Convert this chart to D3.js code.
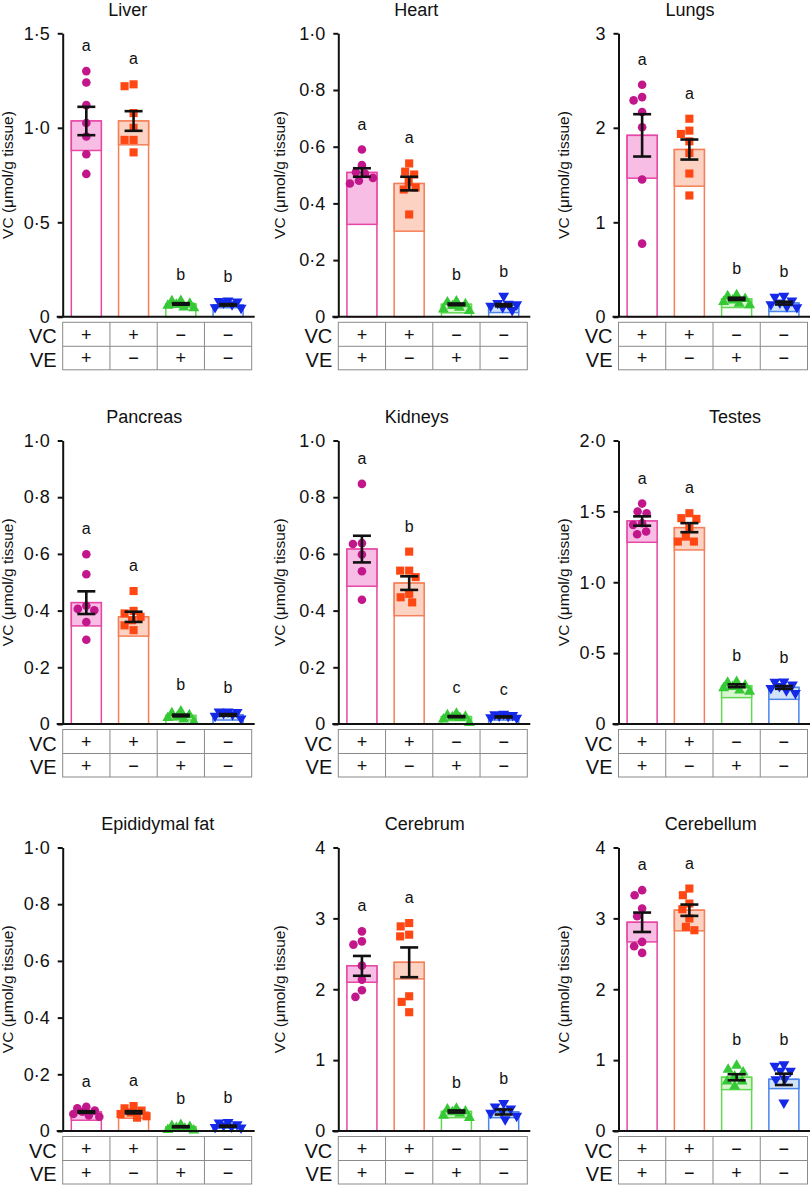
<!DOCTYPE html>
<html><head><meta charset="utf-8">
<script src="https://cdn.jsdelivr.net/npm/d3@7"></script>
<style>body{margin:0;background:#fff} svg{display:block} text{font-family:"Liberation Sans", Arial, Helvetica, sans-serif; fill:#111;}</style>
</head><body><svg id="c" width="810" height="1185"></svg>
<script>
// ---------------- data ----------------
const tissues = ["Liver","Heart","Lungs","Pancreas","Kidneys","Testes","Epididymal fat","Cerebrum","Cerebellum"];
const yMax = [1.5, 1, 3, 1, 1, 2, 1, 4, 4];
const tickStep = [0.5, 0.2, 1, 0.2, 0.2, 0.5, 0.2, 1, 1];
const groups = ["VC+VE+","VC+VE−","VC−VE+","VC−VE−"];
const vcSigns = ["+","+","−","−"];
const veSigns = ["+","−","+","−"];
const axisTitle = "VC (μmol/g tissue)";

const means = [
  [1.036, 1.036, 0.068, 0.063],
  [0.509, 0.470, 0.044, 0.041],
  [1.92, 1.77, 0.19, 0.145],
  [0.428, 0.378, 0.030, 0.032],
  [0.617, 0.497, 0.026, 0.025],
  [1.432, 1.385, 0.270, 0.258],
  [0.067, 0.066, 0.015, 0.017],
  [2.33, 2.38, 0.275, 0.268],
  [2.945, 3.115, 0.758, 0.729]
];
const sems = [
  [0.075, 0.052, 0.004, 0.004],
  [0.015, 0.024, 0.003, 0.004],
  [0.224, 0.106, 0.012, 0.015],
  [0.040, 0.018, 0.003, 0.003],
  [0.047, 0.024, 0.002, 0.002],
  [0.033, 0.032, 0.010, 0.010],
  [0.003, 0.004, 0.002, 0.002],
  [0.140, 0.210, 0.015, 0.035],
  [0.137, 0.080, 0.043, 0.080]
];
const lowerBands = [
  [0.88, 0.91, 0.05, 0.048],
  [0.326, 0.302, 0.014, 0.015],
  [1.467, 1.382, 0.098, 0.056],
  [0.346, 0.31, 0.014, 0.014],
  [0.486, 0.382, 0.012, 0.014],
  [1.282, 1.228, 0.186, 0.174],
  [0.038, 0.045, 0.004, 0.010],
  [2.099, 2.146, 0.188, 0.188],
  [2.668, 2.824, 0.584, 0.598]
];
const letters = [
  ["a","a","b","b"],["a","a","b","b"],["a","a","b","b"],
  ["a","a","b","b"],["a","b","c","c"],["a","a","b","b"],
  ["a","a","b","b"],["a","a","b","b"],["a","a","b","b"]
];

const liverPts = [
  [1.30,1.24,1.12,1.025,0.954,0.86,0.756],
  [1.23,1.22,1.078,1.0,0.936,0.936,0.87],
  [0.09,0.088,0.075,0.07,0.065,0.055,0.052],
  [0.08,0.078,0.075,0.07,0.06,0.045,0.042]
];
const heartPts = [
  [0.59,0.535,0.51,0.505,0.49,0.48,0.47],
  [0.541,0.512,0.502,0.476,0.456,0.449,0.361],
  [0.058,0.055,0.048,0.042,0.036,0.03,0.025],
  [0.07,0.045,0.042,0.04,0.035,0.03,0.02]
];
const lungsPts = [
  [2.455,2.325,2.29,2.167,2.005,1.453,0.774],
  [2.096,1.97,1.935,1.857,1.734,1.516,1.284],
  [0.24,0.23,0.2,0.185,0.17,0.15,0.135],
  [0.21,0.2,0.16,0.14,0.12,0.1,0.09]
];
const pancreasPts = [
  [0.599,0.528,0.417,0.406,0.401,0.36,0.297],
  [0.469,0.399,0.39,0.378,0.366,0.348,0.331],
  [0.048,0.042,0.035,0.03,0.025,0.02,0.012],
  [0.04,0.04,0.038,0.035,0.03,0.025,0.015]
];
const kidneysPts = [
  [0.847,0.638,0.635,0.598,0.539,0.438],
  [0.608,0.541,0.541,0.518,0.459,0.447,0.429],
  [0.04,0.035,0.03,0.028,0.025,0.02,0.008],
  [0.032,0.03,0.028,0.026,0.024,0.02,0.018]
];
const testesPts = [
  [1.555,1.499,1.487,1.416,1.405,1.358,1.339],
  [1.487,1.452,1.447,1.381,1.322,1.287,1.287],
  [0.305,0.3,0.28,0.27,0.26,0.245,0.235],
  [0.292,0.29,0.27,0.26,0.245,0.23,0.21]
];
const fatPts = [
  [0.085,0.08,0.072,0.068,0.06,0.055,0.05],
  [0.088,0.08,0.072,0.065,0.06,0.052,0.047],
  [0.025,0.022,0.018,0.015,0.012,0.008,0.006],
  [0.028,0.026,0.02,0.016,0.012,0.01,0.008]
];
const cerebrumPts = [
  [2.817,2.676,2.63,2.333,2.136,1.986,1.892],
  [2.934,2.887,2.77,2.746,1.901,1.822,1.676],
  [0.33,0.32,0.29,0.28,0.26,0.23,0.2],
  [0.38,0.33,0.3,0.27,0.24,0.2,0.15]
];
const cerebellumPts = [
  [3.398,3.327,3.139,3.031,2.668,2.607,2.513],
  [3.421,3.327,3.209,3.129,2.998,2.88,2.833],
  [0.936,0.88,0.842,0.786,0.715,0.715,0.645],
  [0.927,0.904,0.833,0.833,0.72,0.715,0.386]
];
const points = [liverPts, heartPts, lungsPts, pancreasPts, kidneysPts, testesPts, fatPts, cerebrumPts, cerebellumPts];

// ---------------- layout / style ----------------
const colX = [62.7, 338.3, 618.5];
const rowTop = [33.3, 440.5, 847.5];
const plotH = 283.5, plotW = 189;
const labelOff = [-50, -53, -50];
const titleOff = [[65, 78, 71.5], [81.5, 78.4, 116.5], [95, 86.5, 92.3]];
const styles = [
  {pt:"#c2168b", line:"#e646a6", fill:"#f8bde5", sym:d3.symbolCircle, size:58, rot:0},
  {pt:"#ff4713", line:"#f57f58", fill:"#fcd3c3", sym:d3.symbolSquare, size:66, rot:0},
  {pt:"#35c935", line:"#62d853", fill:"#d9f6d1", sym:d3.symbolTriangle, size:52, rot:0},
  {pt:"#1428e8", line:"#4b84ea", fill:"#d2e2f8", sym:d3.symbolTriangle, size:52, rot:180}
];

function swarm(vals, yScale, minD, maxOff){
  const placed = [];
  return vals.map(v => {
    const py = yScale(v);
    let best = 0, bestScore = -1;
    for (let s = 0; s <= maxOff; s += 0.5){
      for (const o of (s === 0 ? [0] : [-s, s])){
        let md = Infinity;
        for (const p of placed){ const d = Math.hypot(p[0]-o, p[1]-py); if (d < md) md = d; }
        if (md >= minD){ placed.push([o, py]); return o; }
        if (md > bestScore){ bestScore = md; best = o; }
      }
    }
    placed.push([best, py]); return best;
  });
}

const svg = d3.select("#c");

tissues.forEach((name, i) => {
  const r = Math.floor(i / 3), c = i % 3;
  const x0 = colX[c], top = rowTop[r], zero = top + plotH;
  const y = d3.scaleLinear().domain([0, yMax[i]]).range([zero, top]);
  const x = d3.scaleBand().domain(groups).range([x0, x0 + plotW]).paddingInner(0.365).paddingOuter(0.1825);
  const g = svg.append("g");

  // title
  g.append("text").attr("x", x0 + titleOff[r][c]).attr("y", top - 17.5)
    .attr("text-anchor", "middle").style("font-size", "18px").text(name);

  // axis title
  g.append("text").attr("transform", `translate(${x0 + labelOff[c]},${top + plotH/2}) rotate(-90)`)
    .attr("text-anchor", "middle").style("font-size", "15.5px").text(axisTitle);

  // bars
  groups.forEach((gn, k) => {
    const st = styles[k];
    const bx = x(gn), bw = x.bandwidth();
    const m = means[i][k], lo = lowerBands[i][k];
    g.append("rect").attr("x", bx).attr("y", y(m)).attr("width", bw).attr("height", zero - y(m))
      .attr("fill", "#fff").attr("stroke", st.line).attr("stroke-width", 1.5);
    g.append("rect").attr("x", bx).attr("y", y(m)).attr("width", bw).attr("height", Math.max(0, y(lo) - y(m)))
      .attr("fill", st.fill).attr("stroke", st.line).attr("stroke-width", 1.5);
  });

  // points
  groups.forEach((gn, k) => {
    const st = styles[k];
    const cx = x(gn) + x.bandwidth()/2;
    const vals = points[i][k];
    const offs = swarm(vals, y, 9, 13);
    const sym = d3.symbol().type(st.sym).size(st.size);
    g.selectAll(null).data(vals).join("path")
      .attr("d", sym)
      .attr("transform", (v, j) => `translate(${cx + offs[j]},${y(v) + (st.sym === d3.symbolTriangle ? (st.rot ? -1 : 1) : 0)}) rotate(${st.rot})`)
      .attr("fill", st.pt);
  });

  // error bars + letters
  groups.forEach((gn, k) => {
    const cx = x(gn) + x.bandwidth()/2;
    const m = means[i][k], s = sems[i][k];
    const eb = g.append("g").attr("stroke", "#111").attr("stroke-width", 2.6);
    eb.append("line").attr("x1", cx).attr("x2", cx).attr("y1", y(m - s)).attr("y2", y(m + s));
    eb.append("line").attr("x1", cx - 9).attr("x2", cx + 9).attr("y1", y(m + s)).attr("y2", y(m + s));
    eb.append("line").attr("x1", cx - 9).attr("x2", cx + 9).attr("y1", y(m - s)).attr("y2", y(m - s));
    const mx = d3.max(points[i][k]);
    g.append("text").attr("x", cx).attr("y", y(mx) - 20).attr("text-anchor", "middle")
      .style("font-size", "16px").text(letters[i][k]);
  });

  // y axis
  const ticks = d3.range(0, yMax[i] + tickStep[i]/2, tickStep[i]);
  const fmt = v => (v === 0 ? "0" : (tickStep[i] < 1 ? d3.format(".1f")(v).replace(".", "·") : d3.format("d")(v)));
  const ax = g.append("g").attr("transform", `translate(${x0},0)`)
    .call(d3.axisLeft(y).tickValues(ticks).tickSize(5).tickSizeOuter(0).tickPadding(8).tickFormat(fmt));
  ax.select(".domain").attr("stroke", "#111").attr("stroke-width", 2);
  ax.selectAll(".tick line").attr("stroke", "#111").attr("stroke-width", 2);
  ax.selectAll(".tick text").style("font-size", "18px").attr("fill", "#111")
    .style("font-family", '"Liberation Sans", Arial, sans-serif');

  // x axis line
  g.append("line").attr("x1", x0 - 6).attr("x2", x0 + plotW + 3).attr("y1", zero).attr("y2", zero)
    .attr("stroke", "#111").attr("stroke-width", 2);

  // table
  const tTop = zero + 5.5, tMid = zero + 29.5, tBot = zero + 53;
  const tb = g.append("g").attr("stroke", "#8a8a8a").attr("stroke-width", 1).attr("fill", "none");
  tb.append("rect").attr("x", x0).attr("y", tTop).attr("width", plotW).attr("height", tBot - tTop);
  tb.append("line").attr("x1", x0).attr("x2", x0 + plotW).attr("y1", tMid).attr("y2", tMid);
  groups.slice(1).forEach(gn => {
    const bx = x(gn) - x.step() * x.paddingInner() / 2;
    tb.append("line").attr("x1", bx).attr("x2", bx).attr("y1", tTop).attr("y2", tBot);
  });
  groups.forEach((gn, k) => {
    const cx = x(gn) + x.bandwidth()/2;
    g.append("text").attr("x", cx).attr("y", (tTop + tMid)/2).attr("dy", "0.35em")
      .attr("text-anchor", "middle").style("font-size", "18px").text(vcSigns[k]);
    g.append("text").attr("x", cx).attr("y", (tMid + tBot)/2).attr("dy", "0.35em")
      .attr("text-anchor", "middle").style("font-size", "18px").text(veSigns[k]);
  });
  g.append("text").attr("x", x0 - 6).attr("y", (tTop + tMid)/2 + 2).attr("dy", "0.35em")
    .attr("text-anchor", "end").style("font-size", "20px").text("VC");
  g.append("text").attr("x", x0 - 6).attr("y", (tMid + tBot)/2 + 2).attr("dy", "0.35em")
    .attr("text-anchor", "end").style("font-size", "20px").text("VE");
});
</script>
</body></html>
